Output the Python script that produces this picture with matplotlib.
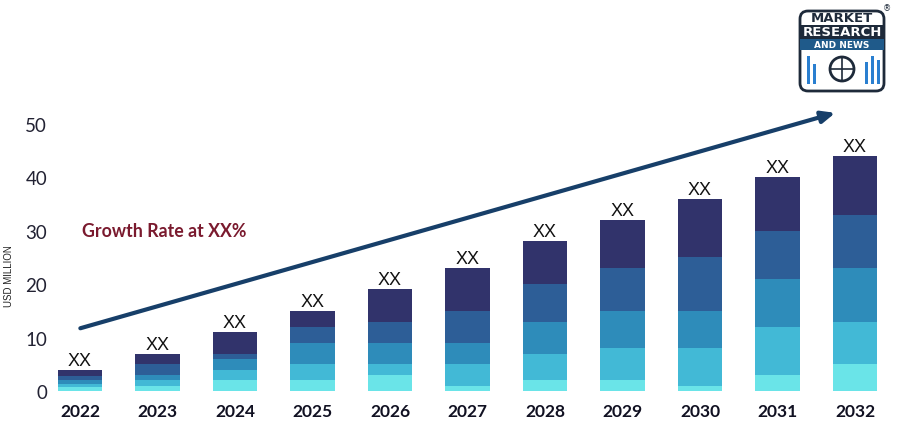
import matplotlib.pyplot as plt
import numpy as np
from matplotlib.patches import FancyBboxPatch

# anos e segmentos empilhados (USD milhoes), do segmento de baixo para o de cima
anos = ['2022', '2023', '2024', '2025', '2026', '2027', '2028', '2029', '2030', '2031', '2032']
seg1 = np.array([0.8, 1, 2, 2, 3, 1, 2, 2, 1, 3, 5])
seg2 = np.array([0.6, 1, 2, 3, 2, 4, 5, 6, 7, 9, 8])
seg3 = np.array([0.6, 1, 2, 4, 4, 4, 6, 7, 7, 9, 10])
seg4 = np.array([0.9, 2, 1, 3, 4, 6, 7, 8, 10, 9, 10])
seg5 = np.array([1.1, 2, 4, 3, 6, 8, 8, 9, 11, 10, 11])
rotulos = ['XX'] * len(anos)
yticks = [0, 10, 20, 30, 40, 50]

cores = ['#6AE4E8', '#42B9D6', '#2E8CBA', '#2D5E97', '#31336B']

fig = plt.figure(figsize=(8.97, 4.39), dpi=100)
ax = fig.add_axes([50 / 897, 47 / 439, 840 / 897, 374 / 439])

x = np.arange(len(anos))
base = np.zeros(len(anos))
for seg, cor in zip([seg1, seg2, seg3, seg4, seg5], cores):
    ax.bar(x, seg, bottom=base, width=0.57, color=cor, edgecolor='none')
    base = base + seg

for xi, total, txt in zip(x, base, rotulos):
    ax.text(xi, total + 0.2, txt, ha='center', va='bottom', fontsize=13,
            family='Liberation Sans', color='#111111')

ax.set_xlim(-30 / 77.5, 10 + 35 / 77.5)
ax.set_ylim(0, 70)
ax.set_xticks(x)
ax.set_xticklabels(anos, fontsize=12.5, fontweight='bold', family='Lato', color='#111122')
ax.set_yticks(yticks)
ax.set_yticklabels([str(v) for v in yticks], fontsize=13.5, family='Lato', color='#222233')
ax.tick_params(length=0, pad=9)
ax.tick_params(axis='y', pad=2)
for s in ax.spines.values():
    s.set_visible(False)
ax.set_ylabel('USD MILLION', fontsize=7, color='#222222', family='Liberation Sans')
ax.yaxis.set_label_coords(-0.043, 0.31)

# seta de crescimento
ax.annotate('', xy=(9.78, 52.2), xytext=(-0.03, 11.6),
            arrowprops=dict(arrowstyle='-|>,head_length=0.8,head_width=0.35',
                            color='#173F69', lw=3), annotation_clip=False)

ax.text(0.03, 30, 'Growth Rate at XX%', fontsize=12.8, fontweight='bold', family='Lato',
        color='#7A1A2E', ha='left', va='center')

# logo simplificado
logo = fig.add_axes([797 / 897, 1 - 95 / 439, 92 / 897, 88 / 439])
logo.set_xlim(0, 92)
logo.set_ylim(0, 88)
logo.axis('off')
logo.add_patch(FancyBboxPatch((3, 3), 84, 80, boxstyle='round,pad=0,rounding_size=8',
                              fc='white', ec='#1E2A3A', lw=2))
logo.add_patch(plt.Rectangle((3, 55), 84, 14, fc='#1E2A3A', ec='none'))
logo.add_patch(plt.Rectangle((3, 44), 84, 11, fc='#1F5A8A', ec='none'))
logo.text(45, 76, 'MARKET', ha='center', va='center', fontsize=9.5, fontweight='bold', color='#1E2A3A')
logo.text(45, 62, 'RESEARCH', ha='center', va='center', fontsize=9.5, fontweight='bold', color='white')
logo.text(45, 49.5, 'AND NEWS', ha='center', va='center', fontsize=6.5, fontweight='bold', color='white')
for bx, bh in zip([10, 16, 68, 74, 80], [28, 20, 22, 28, 24]):
    logo.add_patch(plt.Rectangle((bx, 10), 3, bh, fc='#2A7FD0', ec='none'))
logo.add_patch(plt.Circle((45, 25), 12, fc='white', ec='#1E2A3A', lw=2))
logo.plot([33, 57], [25, 25], color='#1E2A3A', lw=1.2)
logo.plot([45, 45], [13, 37], color='#1E2A3A', lw=1.2)
logo.text(90, 86, '®', fontsize=6, ha='center', va='center', color='#1E2A3A')

fig.savefig('out.png', dpi=100)
